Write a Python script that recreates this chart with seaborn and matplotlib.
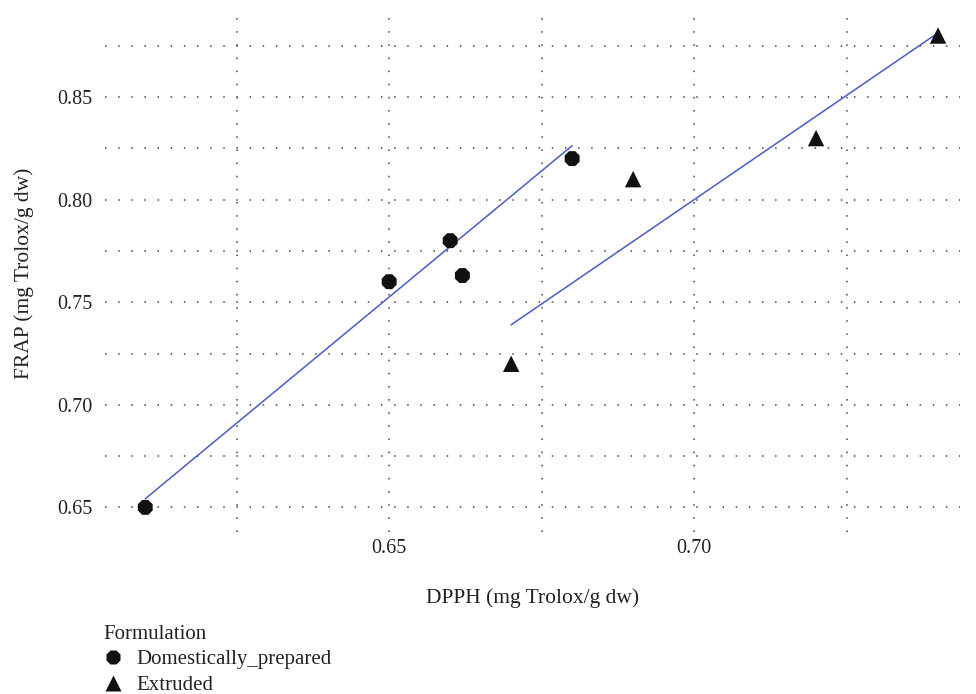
import matplotlib
matplotlib.use("Agg")
import matplotlib.pyplot as plt
import seaborn as sns
import pandas as pd
from matplotlib.ticker import MultipleLocator

# Data
dom_dpph = [0.61, 0.65, 0.66, 0.662, 0.68]
dom_frap = [0.65, 0.76, 0.78, 0.763, 0.82]
ext_dpph = [0.67, 0.69, 0.72, 0.74]
ext_frap = [0.72, 0.81, 0.83, 0.88]
groups = ["Domestically_prepared", "Extruded"]

# Fitted trend lines as drawn in the reference (end points)
dom_fit_dpph = [0.61, 0.68]
dom_fit_frap = [0.6542, 0.8263]
ext_fit_dpph = [0.67, 0.74]
ext_fit_frap = [0.7390, 0.8813]

df = pd.DataFrame({
    "DPPH": dom_dpph + ext_dpph,
    "FRAP": dom_frap + ext_frap,
    "Formulation": [groups[0]] * len(dom_dpph) + [groups[1]] * len(ext_dpph),
})
fit = pd.DataFrame({
    "DPPH": dom_fit_dpph + ext_fit_dpph,
    "FRAP": dom_fit_frap + ext_fit_frap,
    "Formulation": [groups[0]] * 2 + [groups[1]] * 2,
})

sns.set_theme(style="white")
plt.rcParams["font.family"] = ["Liberation Serif", "DejaVu Serif"]

fig = plt.figure(figsize=(9.76, 6.94), dpi=100)
ax = fig.add_axes([105/976, 1 - 532/694, (960-105)/976, (532-15)/694])

line_color = "#4a5cc0"
sns.lineplot(data=fit, x="DPPH", y="FRAP", units="Formulation", estimator=None,
             color=line_color, lw=1.1, ax=ax, legend=False, zorder=2)

sns.scatterplot(data=df, x="DPPH", y="FRAP", style="Formulation", size="Formulation",
                markers={groups[0]: "8", groups[1]: "^"},
                sizes={groups[0]: 135, groups[1]: 140}, color="#111111",
                edgecolor="none", ax=ax, zorder=3, legend=True)

ax.set_xlim(0.6034, 0.7436)
ax.set_ylim(0.638, 0.890)
ax.xaxis.set_minor_locator(MultipleLocator(0.025))
ax.yaxis.set_minor_locator(MultipleLocator(0.025))
ax.set_xticks([0.65, 0.70])
ax.set_xticklabels(["0.65", "0.70"])
ax.set_yticks([0.65, 0.70, 0.75, 0.80, 0.85])
ax.set_yticklabels(["0.65", "0.70", "0.75", "0.80", "0.85"])
ax.grid(True, which="both", linestyle=(0, (1, 7.6)), color="#444444", lw=1.1)
for s in ax.spines.values():
    s.set_visible(False)
ax.tick_params(axis="both", which="both", length=0, labelsize=14.5, colors="#222222")
ax.tick_params(axis="x", pad=5)
ax.tick_params(axis="y", pad=9)
ax.set_xlabel("DPPH (mg Trolox/g dw)", fontsize=15.5, color="#222222", labelpad=22)
ax.set_ylabel("FRAP (mg Trolox/g dw)", fontsize=15.5, color="#222222", labelpad=17)

leg = ax.legend(title="Formulation", loc="upper left", bbox_to_anchor=(-0.012, -0.163),
                frameon=False, fontsize=15, title_fontsize=15, handletextpad=0.6,
                borderaxespad=0, labelspacing=0.3, handlelength=1.0)
leg._legend_box.align = "left"
for t in leg.get_texts():
    t.set_color("#222222")
leg.get_title().set_color("#222222")

fig.savefig("out.png", dpi=100)
